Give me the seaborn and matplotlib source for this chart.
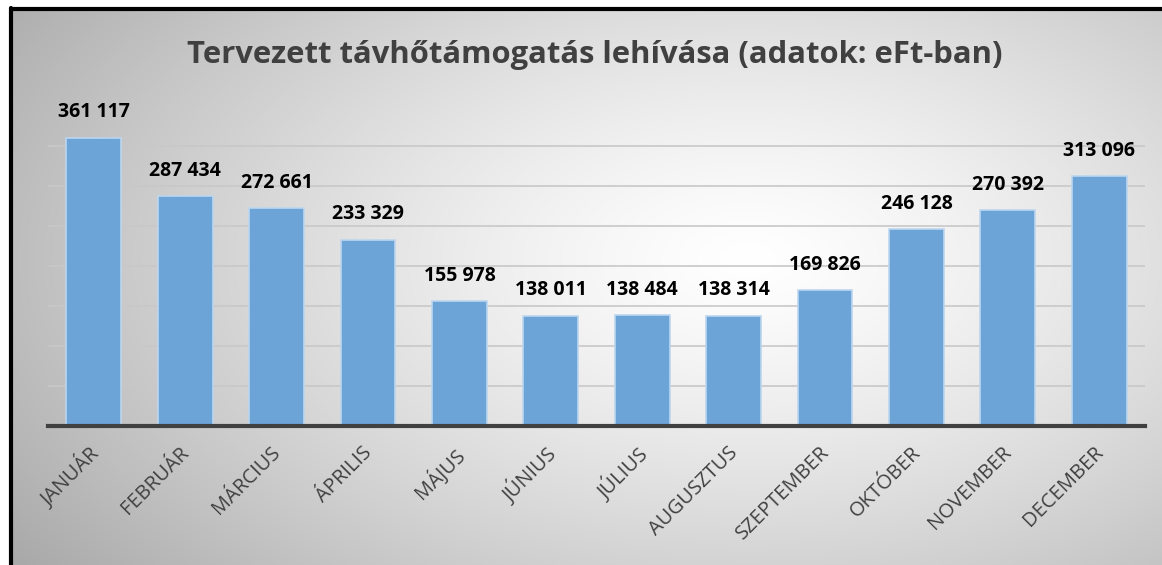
import numpy as np
import pandas as pd
import matplotlib
matplotlib.use("Agg")
import matplotlib.pyplot as plt
import matplotlib.transforms as mtransforms
import seaborn as sns
from matplotlib.lines import Line2D

months = ["JANUÁR", "FEBRUÁR", "MÁRCIUS", "ÁPRILIS", "MÁJUS", "JÚNIUS",
          "JÚLIUS", "AUGUSZTUS", "SZEPTEMBER", "OKTÓBER", "NOVEMBER", "DECEMBER"]
values = [361117, 287434, 272661, 233329, 155978, 138011,
          138484, 138314, 169826, 246128, 270392, 313096]
title = "Tervezett távhőtámogatás lehívása (adatok: eFt-ban)"

sns.set_theme(style="white")
plt.rcParams['font.family'] = ['Open Sans', 'DejaVu Sans']

W, H = 1162, 565
fig = plt.figure(figsize=(W / 100, H / 100), dpi=100)
fig.patch.set_facecolor("white")

# gradient background
bg = fig.add_axes([12 / W, 0, 1 - 12 / W, 1 - 10 / H], zorder=-10)
yy, xx = np.mgrid[0:1:300j, 0:1:600j]
d = np.sqrt(((xx - 0.64) / 0.72) ** 2 + ((yy - 0.45) / 0.85) ** 2)
g = 1.0 - 0.30 * np.clip(d, 0, 1.2) ** 1.3
bg.imshow(np.dstack([g, g, g]), aspect="auto", extent=[0, 1, 0, 1], origin="upper")
bg.set_axis_off()

# frame lines (left & top)
fig.add_artist(Line2D([11 / W, 11 / W], [0, 1 - 8 / H], color="black", lw=3, transform=fig.transFigure))
fig.add_artist(Line2D([11 / W, 1], [1 - 9 / H, 1 - 9 / H], color="black", lw=3, transform=fig.transFigure))

ax = fig.add_axes([48 / W, (H - 426) / H, (1145 - 48) / W, (426 - 106.5) / H])
ax.patch.set_alpha(0)

df = pd.DataFrame({"month": months, "value": values})
sns.barplot(data=df, x="month", y="value", color="#6ca4d8", saturation=1,
            width=0.6, edgecolor="#bcd6ef", linewidth=1.2, ax=ax, zorder=3)

ax.set_xlim(-0.5, len(months) - 0.5)
ax.set_ylim(0, 400000)
ax.set_yticks(np.arange(50000, 400001, 50000))
ax.yaxis.grid(True, color="#c8c8c8", lw=1.2)
ax.set_axisbelow(True)
ax.tick_params(axis="y", left=False, labelleft=False)
ax.tick_params(axis="x", bottom=False, pad=6)
for s in ["top", "right", "left"]:
    ax.spines[s].set_visible(False)
ax.spines["bottom"].set_color("#404040")
ax.spines["bottom"].set_linewidth(3)
ax.spines["bottom"].set_zorder(5)
ax.set_xlabel("")
ax.set_ylabel("")

ax.set_xticks(range(len(months)))
ax.set_xticklabels(months, rotation=45, ha="right", va="top", rotation_mode="anchor",
                   fontsize=14.5, color="#404040")
shift = mtransforms.ScaledTranslation(-6 / 100, 0, fig.dpi_scale_trans)
for lbl in ax.get_xticklabels():
    lbl.set_transform(lbl.get_transform() + shift)

for i, v in enumerate(values):
    ax.annotate(f"{v:,}".replace(",", " "), (i, v), xytext=(0, 11), textcoords="offset points",
                ha="center", va="bottom", fontsize=14, fontweight="bold", color="black",
                annotation_clip=False)

fig.text(595 / W, 1 - 55 / H, title, ha="center", va="center", fontsize=22.3,
         fontweight="bold", color="#404040")

fig.savefig("out.png", dpi=100)
